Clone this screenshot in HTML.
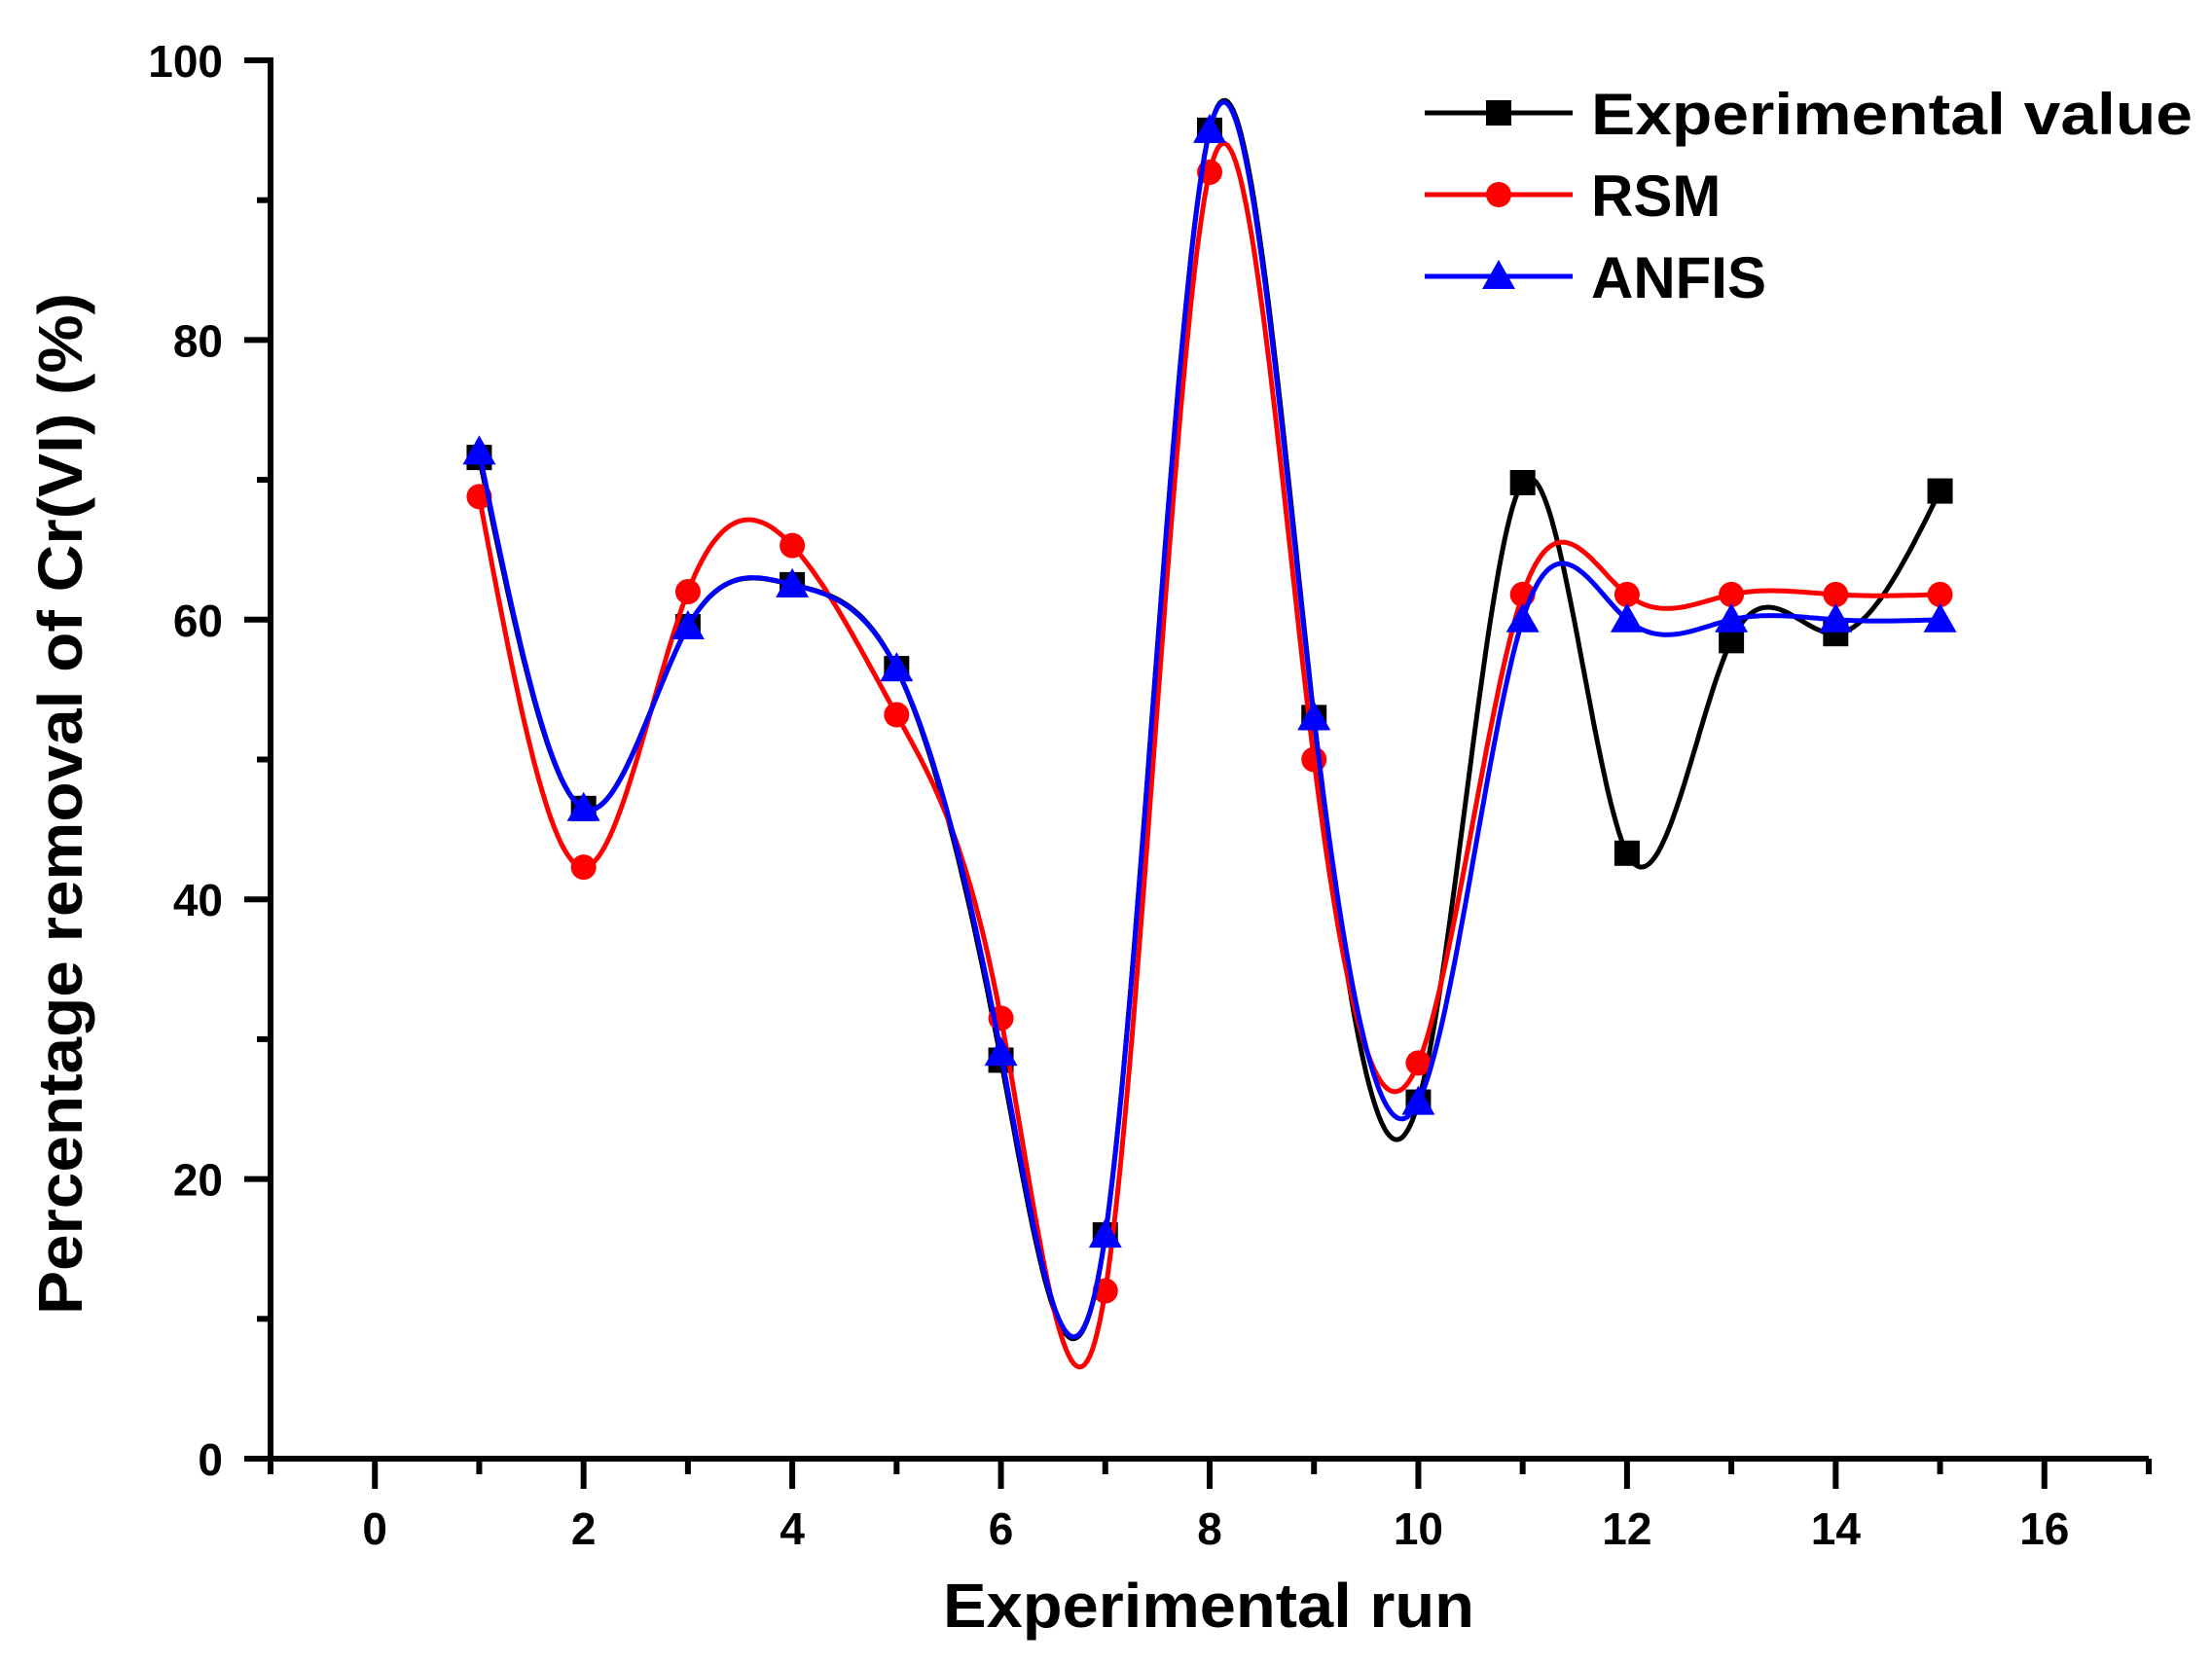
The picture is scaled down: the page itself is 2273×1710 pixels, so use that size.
<!DOCTYPE html>
<html><head><meta charset="utf-8"><style>
html,body{margin:0;padding:0;background:#fff;}
svg{display:block;font-family:"Liberation Sans",Arial,sans-serif;font-weight:bold;}
</style></head><body>
<svg id="chart" width="2273" height="1710" viewBox="0 0 2273 1710" xmlns="http://www.w3.org/2000/svg">
<g id="axes"></g>
<g id="series"></g>
<g id="legend"></g>
<text x="1242" y="1672" font-size="64" text-anchor="middle" textLength="546" lengthAdjust="spacingAndGlyphs">Experimental run</text>
<text transform="translate(84,826) rotate(-90)" font-size="64" text-anchor="middle" textLength="1050" lengthAdjust="spacingAndGlyphs">Percentage removal of Cr(VI) (%)</text>
</svg>
<script>
const runs = [1,2,3,4,5,6,7,8,9,10,11,12,13,14,15];
const experimental = [71.6,46.5,59.5,62.5,56.5,28.5,16,95,53,25.5,69.8,43.3,58.5,59,69.2];
const rsm = [68.8,42.3,62,65.3,53.2,31.5,12,92,50,28.3,61.8,61.8,61.8,61.8,61.8];
const anfis = [72,46.5,59.5,62.5,56.5,29,16,95,53,25.5,60,60,60,60,60];
const xTicks = [0,2,4,6,8,10,12,14,16];
const yTicks = [0,20,40,60,80,100];

const NS='http://www.w3.org/2000/svg';
const X0=278, X1=2208, XMIN=-1, XMAX=17;
const Y0=1499, Y1=62, YMIN=0, YMAX=100;
function sx(v){return X0+(v-XMIN)/(XMAX-XMIN)*(X1-X0);}
function sy(v){return Y0-(v-YMIN)/(YMAX-YMIN)*(Y0-Y1);}
function mk(tag,attrs,parent){const e=document.createElementNS(NS,tag);for(const k in attrs)e.setAttribute(k,attrs[k]);parent.appendChild(e);return e;}

const axes=document.getElementById('axes');
let l=mk('line',{x1:X0,y1:Y0,x2:X1,y2:Y0,stroke:'#000','stroke-width':6},axes);


l=mk('line',{x1:X0,y1:Y0+3,x2:X0,y2:Y1-3,stroke:'#000','stroke-width':6},axes);


for(let v=XMIN;v<=XMAX;v++){
  const major=xTicks.includes(v);
  const t=mk('line',{x1:sx(v),y1:Y0,x2:sx(v),y2:Y0+(major?31:16),stroke:'#000','stroke-width':6},axes);
  
  
}
xTicks.forEach(v=>{
  const t=mk('text',{x:sx(v),y:1587,'font-size':46,'text-anchor':'middle'},axes);
  t.textContent=v;
  
  
});
for(let v=YMIN;v<=YMAX;v+=10){
  const major=yTicks.includes(v);
  const t=mk('line',{x1:X0,y1:sy(v),x2:X0-(major?27:14),y2:sy(v),stroke:'#000','stroke-width':6},axes);
  
  
}
yTicks.forEach(v=>{
  const t=mk('text',{x:229,y:sy(v)+17,'font-size':46,'text-anchor':'end'},axes);
  t.textContent=v;
  
  
});

function spline(xs,ys){
  const n=xs.length,h=[],a=[],l=[1],mu=[0],z=[0],c=new Array(n).fill(0),b=[],d=[];
  for(let i=0;i<n-1;i++)h.push(xs[i+1]-xs[i]);
  for(let i=1;i<n-1;i++)a[i]=3/h[i]*(ys[i+1]-ys[i])-3/h[i-1]*(ys[i]-ys[i-1]);
  for(let i=1;i<n-1;i++){l[i]=2*(xs[i+1]-xs[i-1])-h[i-1]*mu[i-1];mu[i]=h[i]/l[i];z[i]=(a[i]-h[i-1]*z[i-1])/l[i];}
  for(let j=n-2;j>=0;j--){if(j>0)c[j]=z[j]-mu[j]*c[j+1];else c[j]=0;
    b[j]=(ys[j+1]-ys[j])/h[j]-h[j]*(c[j+1]+2*c[j])/3;d[j]=(c[j+1]-c[j])/(3*h[j]);}
  const pts=[];
  for(let i=0;i<n-1;i++){for(let s=0;s<40;s++){const t=s/40*h[i];pts.push([xs[i]+t,ys[i]+b[i]*t+c[i]*t*t+d[i]*t*t*t]);}}
  pts.push([xs[n-1],ys[n-1]]);
  return pts;
}
const series=document.getElementById('series');
function drawMarker(shape,cx,cy,color,g){
  if(shape==='square')return mk('rect',{x:cx-13,y:cy-13,width:26,height:26,fill:color},g);
  if(shape==='circle')return mk('circle',{cx:cx,cy:cy,r:13,fill:color},g);
  return mk('polygon',{points:`${cx},${cy-17} ${cx-17},${cy+13} ${cx+17},${cy+13}`,fill:color},g);
}
function drawSeries(vals,color,shape,name){
  const g=mk('g',{},series);
  
  
  const pts=spline(runs,vals);
  const p=mk('path',{d:'M'+pts.map(q=>sx(q[0]).toFixed(1)+','+sy(q[1]).toFixed(1)).join('L'),fill:'none',stroke:color,'stroke-width':5},g);
  
  
  runs.forEach((r,i)=>{
    const m=drawMarker(shape,sx(r),sy(vals[i]),color,g);
    
    
  });
}
drawSeries(experimental,'#000','square','experimental');
drawSeries(rsm,'#ff0000','circle','rsm');
drawSeries(anfis,'#0000ff','triangle','anfis');

const legend=document.getElementById('legend');
[['Experimental value','#000','square',116],['RSM','#ff0000','circle',200],['ANFIS','#0000ff','triangle',284]].forEach(e=>{
  const g=mk('g',{},legend);
  
  
  const y=e[3],cx=1540;
  mk('line',{x1:1464,y1:y,x2:1616,y2:y,stroke:e[1],'stroke-width':5},g);
  drawMarker(e[2],cx,y,e[1],g);
  const t=mk('text',{x:1635,y:y+22,'font-size':60},g);
  t.textContent=e[0];
  if(e[0]==='Experimental value'){t.setAttribute('textLength','618');t.setAttribute('lengthAdjust','spacingAndGlyphs');}
});
</script>
</body></html>
